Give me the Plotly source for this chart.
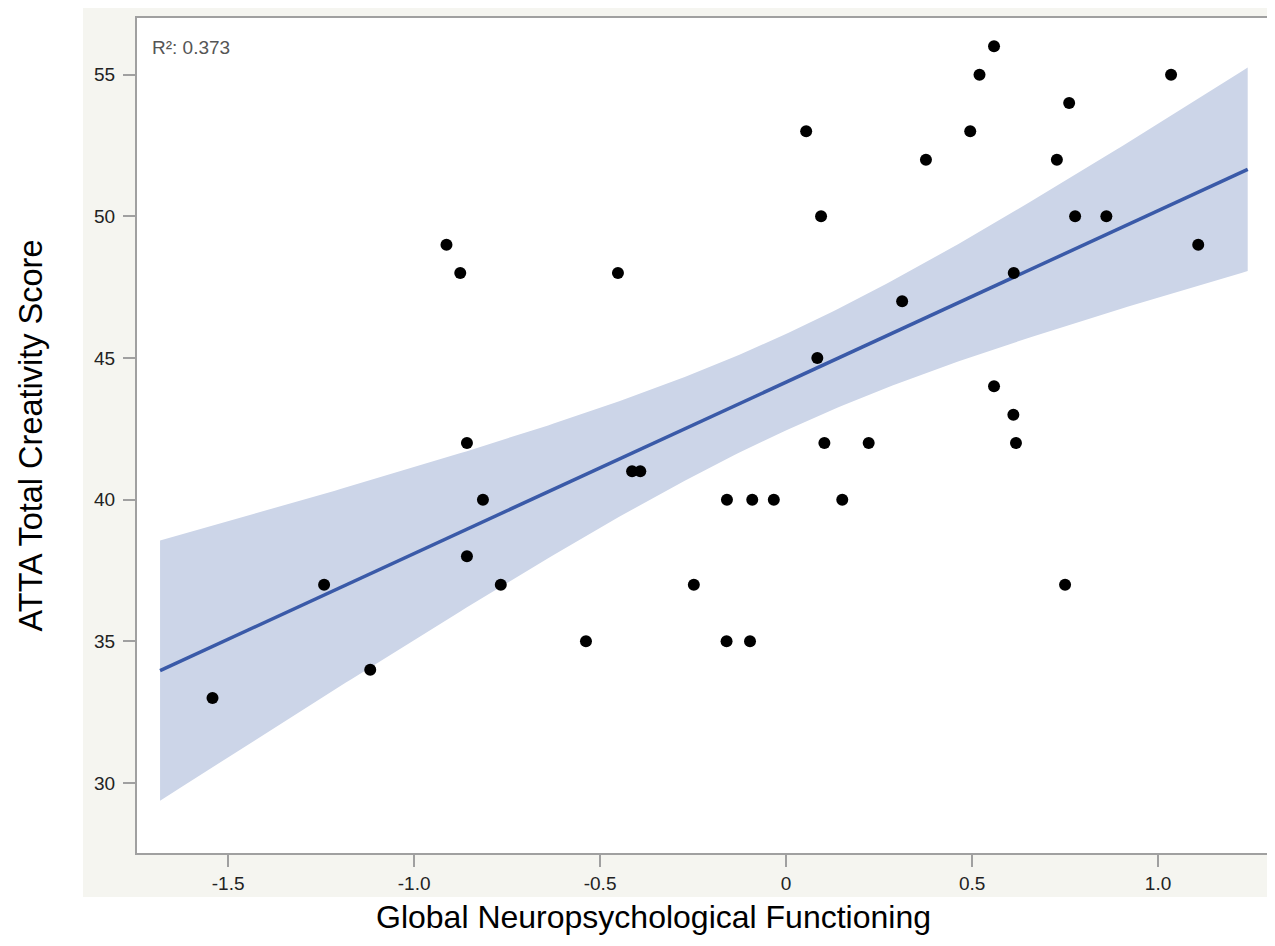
import numpy as np
import plotly.graph_objects as go

# Data
gnf = [-1.542, -1.242, -1.118, -0.913, -0.876, -0.858, -0.858, -0.815, -0.767,
       -0.538, -0.452, -0.414, -0.392, -0.248, -0.159, -0.160, -0.097, -0.091,
       -0.033, 0.054, 0.084, 0.094, 0.103, 0.151, 0.222, 0.312, 0.376, 0.495,
       0.520, 0.559, 0.559, 0.611, 0.612, 0.618, 0.728, 0.750, 0.761, 0.777,
       0.861, 1.035, 1.108]
atta = [33, 37, 34, 49, 48, 42, 38, 40, 37,
        35, 48, 41, 41, 37, 40, 35, 35, 40,
        40, 53, 45, 50, 42, 40, 42, 47, 52, 53,
        55, 56, 44, 43, 48, 42, 52, 37, 54, 50,
        50, 55, 49]
fit_x_range = [-1.683, 1.241]
r2_label = "R²: 0.373"
x_title = "Global Neuropsychological Functioning"
y_title = "ATTA Total Creativity Score"
x_ticks = [-1.5, -1.0, -0.5, 0, 0.5, 1.0]
x_tick_text = ["-1.5", "-1.0", "-0.5", "0", "0.5", "1.0"]
y_ticks = [30, 35, 40, 45, 50, 55]
t_crit = 2.0227  # t(0.975, df=39)

x = np.array(gnf, dtype=float)
y = np.array(atta, dtype=float)
n = len(x)
b, a = np.polyfit(x, y, 1)
resid = y - (a + b * x)
s = np.sqrt(np.sum(resid ** 2) / (n - 2))
sxx = np.sum((x - x.mean()) ** 2)
xf = np.linspace(fit_x_range[0], fit_x_range[1], 200)
yf = a + b * xf
se = s * np.sqrt(1.0 / n + (xf - x.mean()) ** 2 / sxx)
upper = yf + t_crit * se
lower = yf - t_crit * se

fig = go.Figure()
fig.add_trace(go.Scatter(
    x=np.concatenate([xf, xf[::-1]]), y=np.concatenate([upper, lower[::-1]]),
    fill="toself", fillcolor="#ccd5e8", line=dict(width=0), mode="lines",
    hoverinfo="skip", showlegend=False))
fig.add_trace(go.Scatter(x=xf, y=yf, mode="lines",
                         line=dict(color="#3a5aa8", width=3.5), showlegend=False))
fig.add_trace(go.Scatter(x=gnf, y=atta, mode="markers",
                         marker=dict(color="#000000", size=12), showlegend=False))

OFF = 8  # page body margin
W, H = 1275 - OFF, 946 - OFF
L, T = 137 - OFF, 18 - OFF
R = W - (1273 - OFF)
B = H - (853 - OFF)
pw, ph = W - L - R, H - T - B


def px_to_paper_x(p):
    return (p - OFF - L) / pw


def px_to_paper_y(p):
    return (H - B - (p - OFF)) / ph


# white margins outside the beige panel
for (x0, x1, y0, y1) in [(-20, 83, -20, 960), (-20, 1290, -20, 7), (-20, 1290, 897, 960)]:
    fig.add_shape(type="rect", xref="paper", yref="paper",
                  x0=px_to_paper_x(x0), x1=px_to_paper_x(x1),
                  y0=px_to_paper_y(y1), y1=px_to_paper_y(y0),
                  fillcolor="white", line=dict(width=0), layer="below")

fig.add_annotation(text=r2_label, xref="paper", yref="paper",
                   x=px_to_paper_x(150), y=px_to_paper_y(47),
                   xanchor="left", yanchor="middle", showarrow=False,
                   font=dict(family="Liberation Sans", size=19, color="#555555"))

fig.add_annotation(text=x_title, xref="paper", yref="paper",
                   x=px_to_paper_x(653), y=px_to_paper_y(917),
                   xanchor="center", yanchor="middle", showarrow=False,
                   font=dict(family="Liberation Sans", size=32, color="#000000"))

axis_common = dict(showgrid=False, zeroline=False, showline=True, linecolor="#a0a0a0",
                   linewidth=2, ticks="outside", ticklen=12, tickcolor="#a0a0a0",
                   tickwidth=1.5,
                   tickfont=dict(family="Liberation Sans", size=19, color="#222222"))

fig.update_layout(
    width=W, height=H,
    margin=dict(l=L, r=R, t=T, b=B, pad=0),
    paper_bgcolor="#f5f5f0", plot_bgcolor="white",
    xaxis=dict(range=[-1.745, 1.309], tickvals=x_ticks, ticktext=x_tick_text,
               mirror=True, **axis_common),
    yaxis=dict(range=[27.53, 57.0], tickvals=y_ticks, ticklabelstandoff=4,
               title=dict(text=y_title, standoff=42,
                          font=dict(family="Liberation Sans", size=32.5, color="#000000")),
               **axis_common),
)

fig.write_html("out.html")
